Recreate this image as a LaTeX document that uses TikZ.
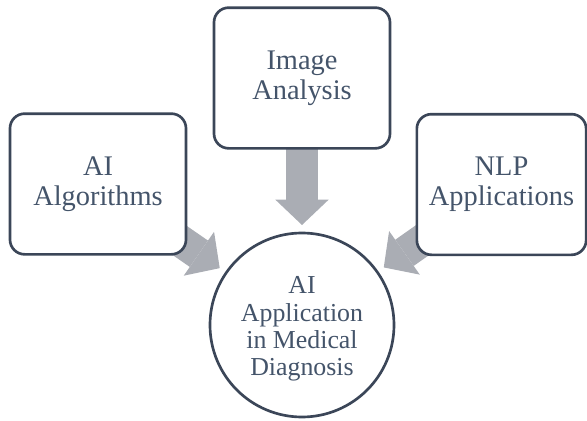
\documentclass[tikz,border=0pt]{standalone}
\usepackage{fontspec}
\setmainfont{Liberation Serif}
\usetikzlibrary{arrows.meta, backgrounds}
\definecolor{slate}{HTML}{44546A}
\definecolor{slateline}{HTML}{3B4658}
\definecolor{arrowgray}{HTML}{AAADB4}

\begin{document}
\begin{tikzpicture}[x=0.75pt, y=-0.75pt]
	\tikzset{
		block/.style = {rectangle, draw=slateline, fill=white, line width=2pt, rounded corners=11pt,
			minimum width=132pt, minimum height=105.5pt, inner sep=0pt, text=slate, align=center,
			font=\fontsize{21.3pt}{22.5pt}\selectfont},
		hub/.style = {circle, draw=slateline, fill=white, line width=2pt, minimum size=138pt,
			inner sep=0pt, text=slate, align=center, font=\fontsize{19.4pt}{20.5pt}\selectfont},
		feed/.style = {draw=arrowgray, line width=24pt, shorten >=5pt,
			-{Triangle[width=40pt, length=19pt, line width=0pt]}}
	}
	\useasboundingbox (0, 0) rectangle (587, 421);
	\node[block] (algo) at (98, 184) {AI\\Algorithms};
	\node[block] (image) at (302, 78) {Image\\Analysis};
	\node[block, minimum width=127pt] (nlp) at (501.5, 184.5) {NLP\\Applications};
	\node[hub] (diag) at (302, 325) {\rule{0pt}{19pt}AI\\Application\\in Medical\\Diagnosis};
	\begin{scope}[on background layer]
		\draw[feed] (algo.center) -- (diag);
		\draw[feed] (image.center) -- (diag);
		\draw[feed] (nlp.center) -- (diag);
	\end{scope}
\end{tikzpicture}
\end{document}
